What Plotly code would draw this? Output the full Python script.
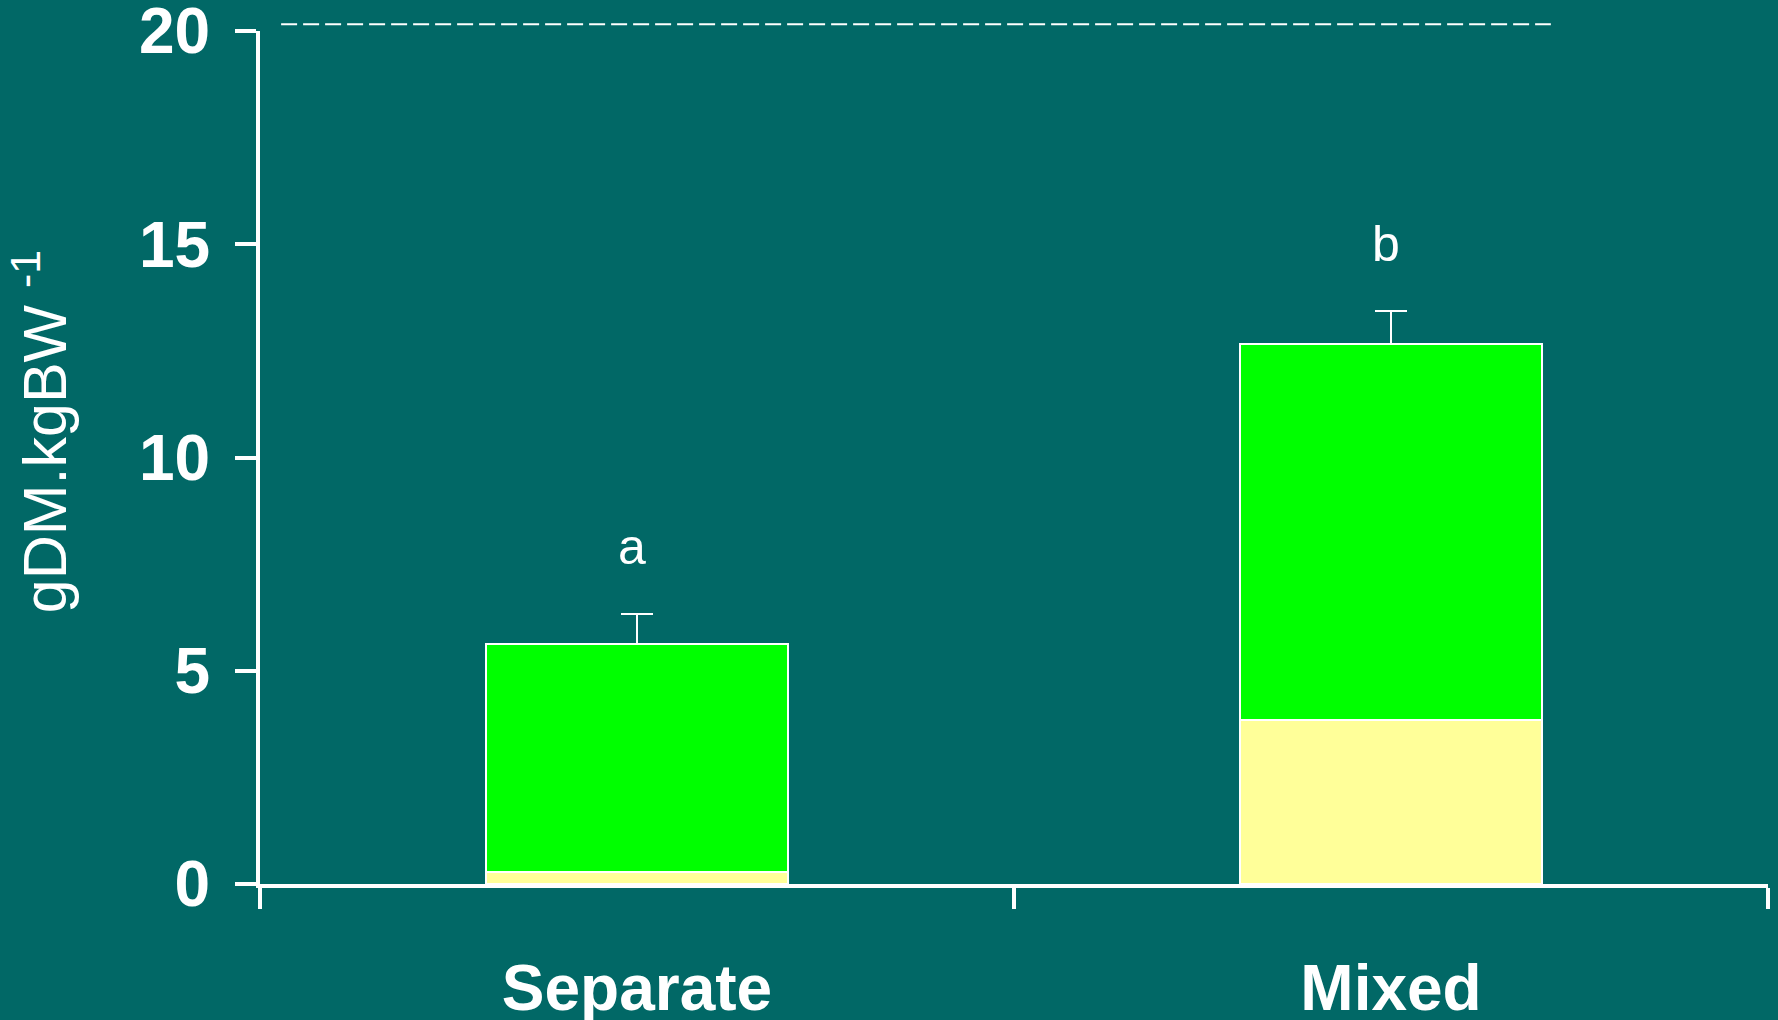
import plotly.graph_objects as go

# Feed intake (gDM per kg body weight), two feeding systems
categories = ["Separate", "Mixed"]
x_pos = [0.5, 1.5]              # category centres on a 0..2 axis
base_part = [0.29, 3.85]        # lower (pale yellow) component
top_part = [5.34, 8.80]         # upper (green) component
top_err = [0.71, 0.78]          # SE on the stacked total
letters = ["a", "b"]            # significance letters
letter_y = [7.9, 15.0]
y_ticks = [0, 5, 10, 15, 20]
ref_level = 20.16               # dashed reference line

BG = "#016866"
FONT = "Liberation Sans"

fig = go.Figure()
fig.add_trace(go.Bar(
    x=x_pos, y=base_part, width=0.4,
    marker=dict(color="#FFFF99", line=dict(color="white", width=2)),
    showlegend=False, hoverinfo="skip",
))
fig.add_trace(go.Bar(
    x=x_pos, y=top_part, width=0.4,
    marker=dict(color="#00FF00", line=dict(color="white", width=2)),
    error_y=dict(type="data", array=top_err, symmetric=False,
                 arrayminus=[0, 0], color="white", thickness=2, width=16),
    showlegend=False, hoverinfo="skip",
))

for xv, lab, yv in zip(x_pos, letters, letter_y):
    fig.add_annotation(x=xv, y=yv, text=lab, showarrow=False, xshift=-5,
                       yanchor="middle",
                       font=dict(family=FONT, size=50, color="white"))

# y-axis title, placed as a rotated annotation
fig.add_annotation(xref="paper", yref="paper", x=-0.143, y=0.530, xshift=-4,
                   text="gDM.kgBW <sup>-1</sup>", textangle=-90,
                   showarrow=False, xanchor="center", yanchor="middle",
                   font=dict(family=FONT, size=61, color="white"))

fig.add_shape(type="line", xref="x", yref="y domain",
              x0=0.028, x1=1.712, y0=ref_level / 20, y1=ref_level / 20,
              line=dict(color="white", width=2, dash="16px,6px"))

fig.update_layout(
    barmode="stack",
    width=1778, height=1020,
    margin=dict(l=260, r=10, t=31, b=136),
    paper_bgcolor=BG, plot_bgcolor=BG,
    xaxis=dict(
        range=[0, 2], showgrid=False, zeroline=False, automargin=False,
        showline=True, linecolor="white", linewidth=4,
        tickmode="array", tickvals=x_pos, ticktext=categories, ticks="",
        tickfont=dict(family=FONT, size=64, color="white", weight="bold"),
        ticklabelstandoff=45,
        minor=dict(tickmode="array", tickvals=[0, 1, 2], ticks="outside",
                   ticklen=21, tickwidth=4, tickcolor="white", showgrid=False),
    ),
    yaxis=dict(
        range=[0, 20], showgrid=False, zeroline=False, automargin=False,
        showline=True, linecolor="white", linewidth=4,
        tickmode="array", tickvals=y_ticks, ticks="outside",
        ticklen=21, tickwidth=4, tickcolor="white",
        tickfont=dict(family=FONT, size=64, color="white", weight="bold"),
        ticklabelstandoff=12, ticklabeloverflow="allow",
    ),
)

fig.write_html("out.html")
